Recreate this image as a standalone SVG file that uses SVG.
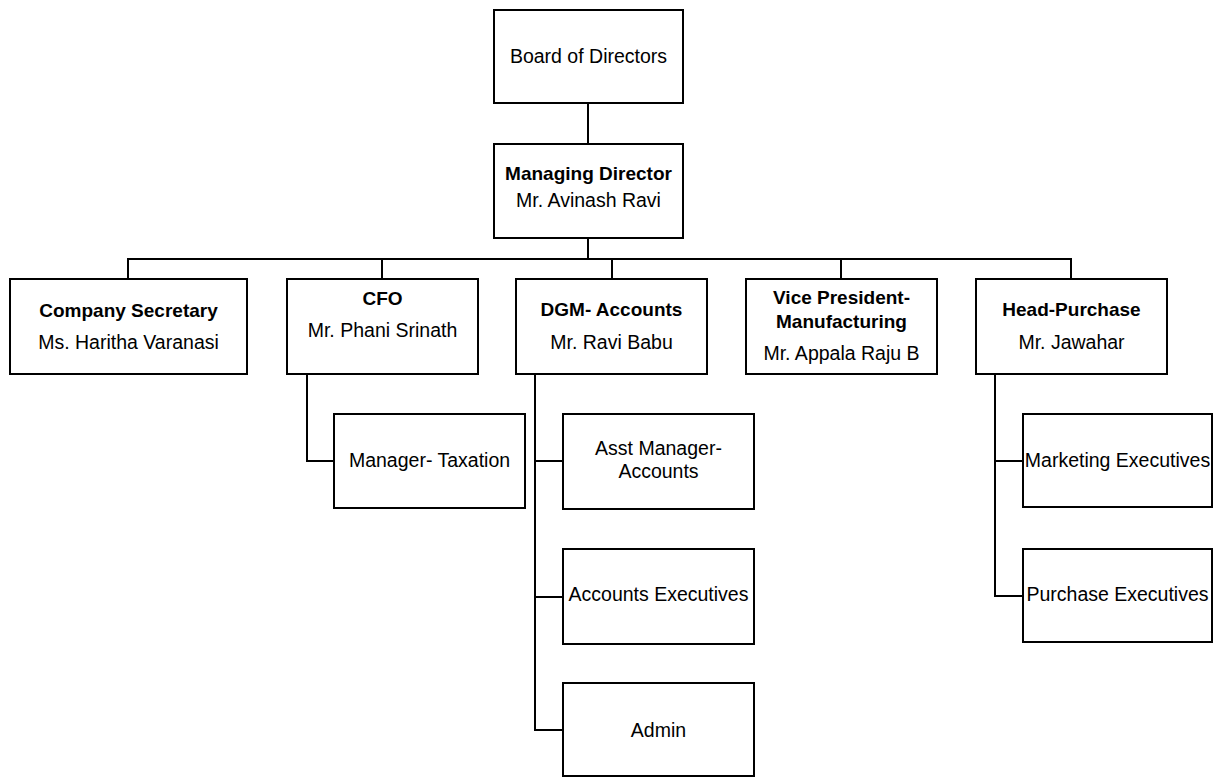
<svg xmlns="http://www.w3.org/2000/svg" width="1215" height="778" viewBox="0 0 1215 778">
<style>
.box{fill:#fff;stroke:#000;stroke-width:2}
.ln{fill:none;stroke:#000;stroke-width:2}
text{font-family:"Liberation Sans",Arial,sans-serif;font-size:19.5px;fill:#000;text-anchor:middle}
.b{font-weight:bold;font-size:19px}
</style>
<rect width="1215" height="778" fill="#fff"/>
<g id="connectors">
<path class="ln" d="M588,103 V144"/>
<path class="ln" d="M588,238 V259"/>
<path class="ln" d="M128,279 V259 H1071 V279"/>
<path class="ln" d="M382,259 V279"/>
<path class="ln" d="M612,259 V279"/>
<path class="ln" d="M841,259 V279"/>
<path class="ln" d="M307,374 V461 H334"/>
<path class="ln" d="M535,374 V730 H563"/>
<path class="ln" d="M535,461 H563"/>
<path class="ln" d="M535,597 H563"/>
<path class="ln" d="M995,374 V596 H1023"/>
<path class="ln" d="M995,461 H1023"/>
</g>
<g id="board"><rect class="box" x="494" y="10" width="189" height="93"/><text x="588.5" y="63">Board of Directors</text></g>
<g id="md"><rect class="box" x="494" y="144" width="189" height="94"/><text class="b" x="588.5" y="180">Managing Director</text><text x="588.5" y="207">Mr. Avinash Ravi</text></g>
<g id="secretary"><rect class="box" x="10" y="279" width="237" height="95"/><text class="b" x="128.5" y="317">Company Secretary</text><text x="128.5" y="349">Ms. Haritha Varanasi</text></g>
<g id="cfo"><rect class="box" x="287" y="279" width="191" height="95"/><text class="b" x="382.5" y="305">CFO</text><text x="382.5" y="337">Mr. Phani Srinath</text></g>
<g id="dgm"><rect class="box" x="516" y="279" width="191" height="95"/><text class="b" x="611.5" y="316">DGM- Accounts</text><text x="611.5" y="349">Mr. Ravi Babu</text></g>
<g id="vp"><rect class="box" x="746" y="279" width="191" height="95"/><text class="b" x="841.5" y="304">Vice President-</text><text class="b" x="841.5" y="328">Manufacturing</text><text x="841.5" y="360">Mr. Appala Raju B</text></g>
<g id="purchase-head"><rect class="box" x="976" y="279" width="191" height="95"/><text class="b" x="1071.5" y="316">Head-Purchase</text><text x="1071.5" y="349">Mr. Jawahar</text></g>
<g id="taxation"><rect class="box" x="334" y="414" width="191" height="94"/><text x="429.5" y="467">Manager- Taxation</text></g>
<g id="asst-manager"><rect class="box" x="563" y="414" width="191" height="95"/><text x="658.5" y="455">Asst Manager-</text><text x="658.5" y="478">Accounts</text></g>
<g id="accounts-exec"><rect class="box" x="563" y="549" width="191" height="95"/><text x="658.5" y="601">Accounts Executives</text></g>
<g id="admin"><rect class="box" x="563" y="683" width="191" height="93"/><text x="658.5" y="737">Admin</text></g>
<g id="marketing-exec"><rect class="box" x="1023" y="414" width="189" height="93"/><text x="1117.5" y="467">Marketing Executives</text></g>
<g id="purchase-exec"><rect class="box" x="1023" y="549" width="189" height="93"/><text x="1117.5" y="601">Purchase Executives</text></g>
</svg>
